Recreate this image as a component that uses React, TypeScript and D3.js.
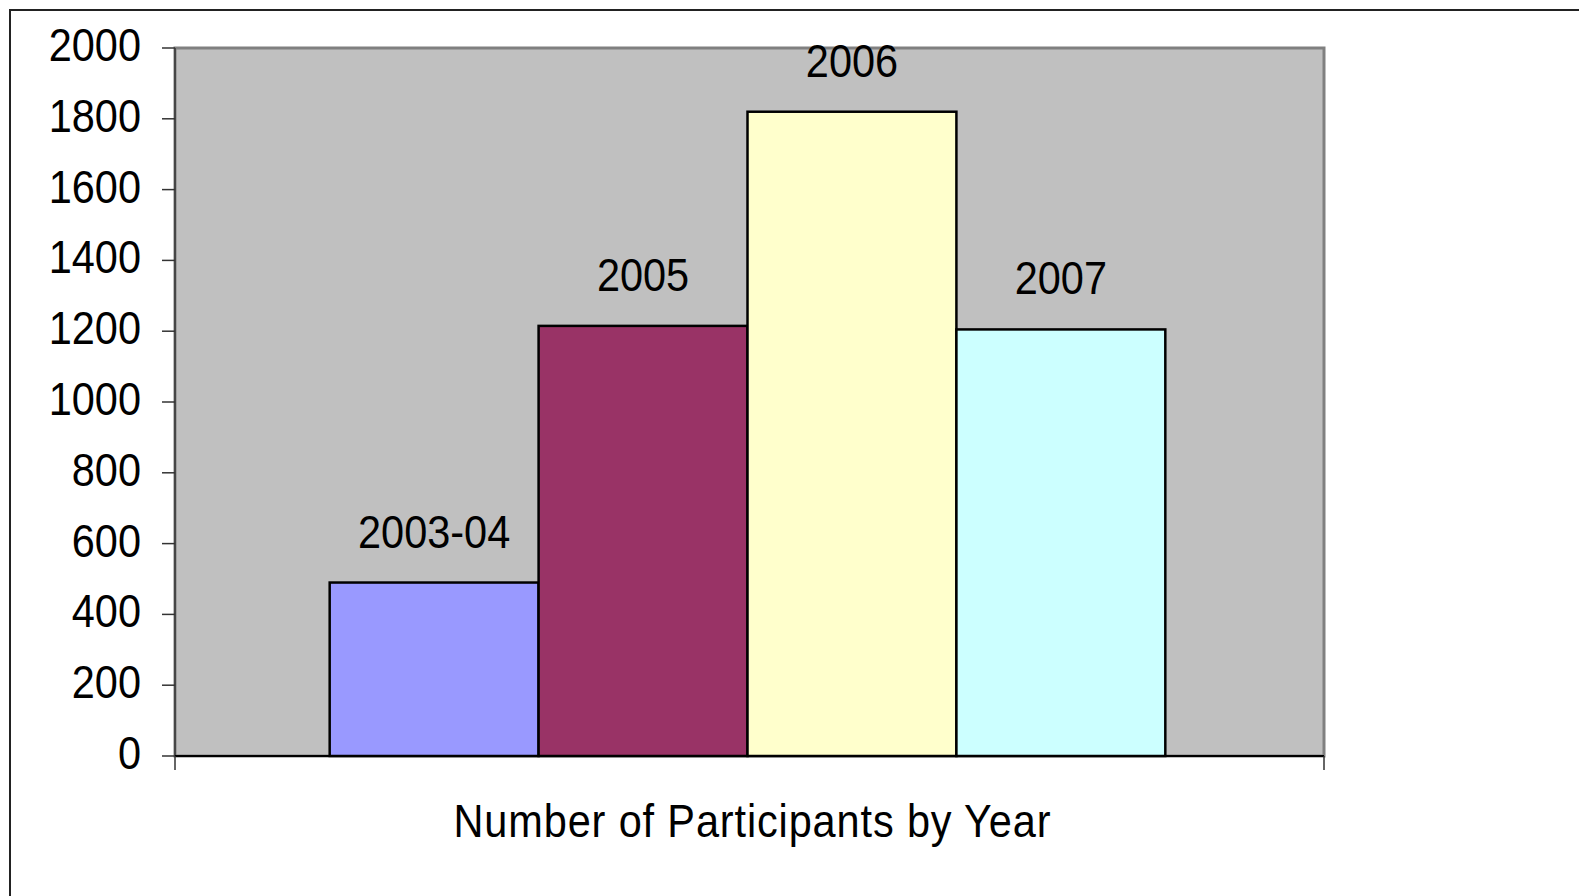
import * as d3 from 'd3';

// data
const seriesNames = ['2003-04', '2005', '2006', '2007'];
const participants = [490, 1215, 1820, 1205];
const yTicks = [0, 200, 400, 600, 800, 1000, 1200, 1400, 1600, 1800, 2000];
const categoryTitle = 'Number of Participants by Year';

const barColors = ['#9999FF', '#993366', '#FFFFCC', '#CCFFFF'];

const W = 1579;
const H = 896;
const plot = { left: 175, right: 1324, top: 48, bottom: 756 };
const font = '"Liberation Sans", Arial, sans-serif';
const stretch = 1.12; // text in the source is slightly tall for its width

const App = () => {
  const y = d3.scaleLinear().domain([0, 2000]).range([plot.bottom, plot.top]);

  // one category, four series side by side, Excel-like 150% gap
  const x = d3
    .scaleBand<string>()
    .domain(seriesNames)
    .range([plot.left - 2, plot.right - 2])
    .paddingInner(0)
    .paddingOuter(0.75);

  const label = (txt: string, tx: number, ty: number, anchor: string, extra: any = {}) => (
    <text
      key={txt + tx + ty}
      transform={`translate(${tx},${ty}) scale(1,${stretch})`}
      textAnchor={anchor}
      fontFamily={font}
      fontSize={41.5}
      fill="#000"
      {...extra}
    >
      {txt}
    </text>
  );

  return (
    <svg
      width={W}
      height={H}
      style={{ position: 'absolute', left: 0, top: 0, background: '#fff' }}
    >
      {/* chart area frame, runs off the right and bottom edges */}
      <rect x={10} y={10} width={W + 20} height={H + 20} fill="#fff" stroke="#222" strokeWidth={2} />

      {/* plot background */}
      <rect
        x={plot.left}
        y={plot.top}
        width={plot.right - plot.left}
        height={plot.bottom - plot.top}
        fill="#C0C0C0"
        stroke="#808080"
        strokeWidth={3}
      />

      {/* bars */}
      {seriesNames.map((s, i) => (
        <rect
          key={s}
          x={x(s)}
          y={y(participants[i])}
          width={x.bandwidth()}
          height={y(0) - y(participants[i])}
          fill={barColors[i]}
          stroke="#000"
          strokeWidth={2.5}
        />
      ))}

      {/* bar labels (series names) */}
      {seriesNames.map((s, i) =>
        label(s, (x(s) as number) + x.bandwidth() / 2, y(participants[i]) - 35, 'middle')
      )}

      {/* y axis */}
      <line x1={plot.left} x2={plot.left} y1={plot.top} y2={plot.bottom} stroke="#333" strokeWidth={1.5} />
      {yTicks.map((t) => (
        <g key={t}>
          <line x1={plot.left - 13} x2={plot.left} y1={y(t)} y2={y(t)} stroke="#333" strokeWidth={1.5} />
          {label(String(t), 141, y(t) + 13, 'end')}
        </g>
      ))}

      {/* x axis */}
      <line x1={plot.left} x2={plot.right} y1={plot.bottom} y2={plot.bottom} stroke="#000" strokeWidth={2} />
      <line x1={plot.left} x2={plot.left} y1={plot.bottom} y2={plot.bottom + 14} stroke="#333" strokeWidth={1.5} />
      <line x1={plot.right} x2={plot.right} y1={plot.bottom} y2={plot.bottom + 14} stroke="#333" strokeWidth={1.5} />

      {label(categoryTitle, 752, 837, 'middle', { textLength: 597, lengthAdjust: 'spacing' })}
    </svg>
  );
};

export default App;
